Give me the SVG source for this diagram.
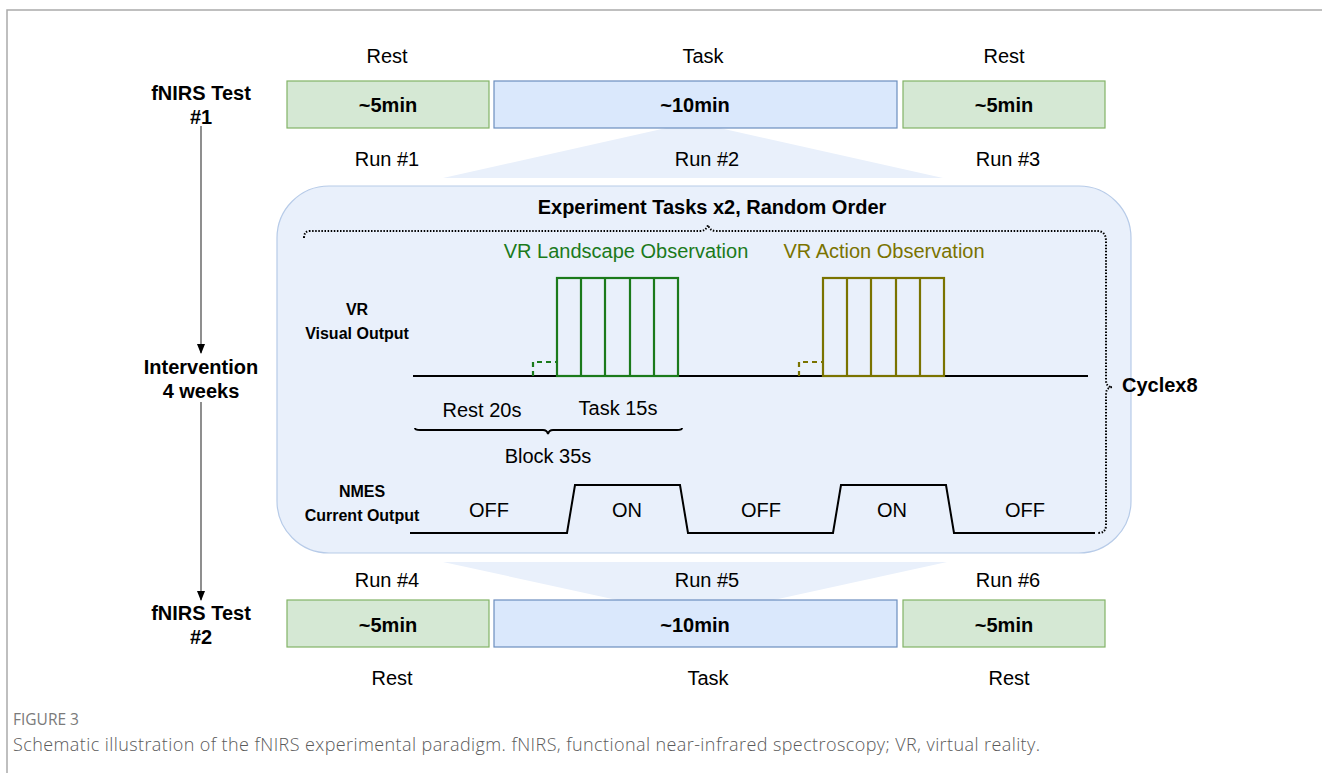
<svg xmlns="http://www.w3.org/2000/svg" width="1322" height="773" viewBox="0 0 1322 773">
<style>
text{font-family:"Liberation Sans",Arial,sans-serif;fill:#000}
.t{font-size:20px}
.b{font-size:20px;font-weight:bold}
.s{font-size:16px;font-weight:bold}
.mid{text-anchor:middle}
.gbox{fill:#d5e8d4;stroke:#82b366;stroke-width:1.2}
.bbox{fill:#dae8fc;stroke:#6c8ebf;stroke-width:1.2}
.funnel{fill:#e9f0fb}
.ln{fill:none;stroke:#000;stroke-width:2}
.gl{fill:none;stroke:#1b7a1b;stroke-width:2.2}
.ol{fill:none;stroke:#7a7300;stroke-width:2.2}
.dot{fill:none;stroke:#000;stroke-width:2;stroke-dasharray:1.5 1.6}
</style>
<defs>
<marker id="ah" viewBox="0 0 10 10" refX="9" refY="5" markerWidth="10" markerHeight="10" markerUnits="userSpaceOnUse" orient="auto">
<path d="M0,1 L10,5 L0,9 Z" fill="#000"/>
</marker>
</defs>
<rect width="1322" height="773" fill="#fff"/>
<path d="M7,773 V10 H1322" fill="none" stroke="#aaa" stroke-width="1.5"/>

<g id="funnels">
<polygon class="funnel" points="693,122 943,178 443,178"/>
<polygon class="funnel" points="443,562 947,562 695,617"/>
</g>

<g id="row1">
<text class="t mid" x="387" y="63">Rest</text>
<text class="t mid" x="703" y="63">Task</text>
<text class="t mid" x="1004" y="63">Rest</text>
<g id="r1a"><rect class="gbox" x="287" y="81" width="202" height="47"/><text class="b mid" x="388" y="112">~5min</text></g>
<g id="r1b"><rect class="bbox" x="494" y="81" width="403" height="47"/><text class="b mid" x="695" y="112">~10min</text></g>
<g id="r1c"><rect class="gbox" x="903" y="81" width="202" height="47"/><text class="b mid" x="1004" y="112">~5min</text></g>
<text class="t mid" x="387" y="166">Run #1</text>
<text class="t mid" x="707" y="166">Run #2</text>
<text class="t mid" x="1008" y="166">Run #3</text>
</g>

<g id="row2">
<text class="t mid" x="387" y="587">Run #4</text>
<text class="t mid" x="707" y="587">Run #5</text>
<text class="t mid" x="1008" y="587">Run #6</text>
<g id="r2a"><rect class="gbox" x="287" y="600" width="202" height="47"/><text class="b mid" x="388" y="632">~5min</text></g>
<g id="r2b"><rect class="bbox" x="494" y="600" width="403" height="47"/><text class="b mid" x="695" y="632">~10min</text></g>
<g id="r2c"><rect class="gbox" x="903" y="600" width="202" height="47"/><text class="b mid" x="1004" y="632">~5min</text></g>
<text class="t mid" x="392" y="685">Rest</text>
<text class="t mid" x="708" y="685">Task</text>
<text class="t mid" x="1009" y="685">Rest</text>
</g>

<g id="timeline">
<text class="b mid" x="201" y="100">fNIRS Test</text>
<text class="b mid" x="201" y="124">#1</text>
<text class="b mid" x="201" y="374">Intervention</text>
<text class="b mid" x="201" y="398">4 weeks</text>
<text class="b mid" x="201" y="620">fNIRS Test</text>
<text class="b mid" x="201" y="644">#2</text>
</g>

<g id="connectors">
<line x1="201" y1="126" x2="201" y2="353" stroke="#444" stroke-width="1.2" marker-end="url(#ah)"/>
<line x1="201" y1="402" x2="201" y2="600" stroke="#444" stroke-width="1.2" marker-end="url(#ah)"/>
</g>

<g id="panel">
<rect x="277" y="186" width="854" height="367" rx="52" ry="52" fill="#e9f0fb" stroke="#b7cbe8" stroke-width="1.2"/>
<text class="b mid" x="712" y="214">Experiment Tasks x2, Random Order</text>
<path class="dot" d="M304,238 Q304,231 310,231 L700,231 Q706,231 708,225 Q710,231 716,231 L1097,231 Q1106,231 1106,241 L1106,380 Q1106,387 1112,387 Q1106,388 1106,394 L1106,525 Q1106,533 1098,533"/>
<text class="b" x="1122" y="392">Cyclex8</text>

<text class="t mid" x="626" y="258" style="fill:#1b7a1b">VR Landscape Observation</text>
<text class="t mid" x="884" y="258" style="fill:#7a7300">VR Action Observation</text>

<text class="s mid" x="357" y="315">VR</text>
<text class="s mid" x="357" y="339">Visual Output</text>

<line class="ln" x1="413" y1="376" x2="1088" y2="376"/>
<g id="pulse1">
<rect class="gl" x="557" y="278" width="121" height="98"/>
<path class="gl" d="M581,278V376M605,278V376M630,278V376M654,278V376"/>
<path class="gl" d="M533,376V362H557" stroke-dasharray="5 4"/>
</g>
<g id="pulse2">
<rect class="ol" x="823" y="278" width="121" height="98"/>
<path class="ol" d="M847,278V376M871,278V376M896,278V376M920,278V376"/>
<path class="ol" d="M799,376V362H823" stroke-dasharray="5 4"/>
</g>

<text class="t mid" x="482" y="417">Rest 20s</text>
<text class="t mid" x="618" y="415">Task 15s</text>
<path class="ln" d="M415,428 Q415,430 420,430 L543,430 Q547,430 548,434 Q549,430 553,430 L677,430 Q682,430 682,428"/>
<text class="t mid" x="548" y="463">Block 35s</text>

<text class="s mid" x="362" y="497">NMES</text>
<text class="s mid" x="362" y="521">Current Output</text>
<path class="ln" d="M410,533 H567 L575,485 H680 L688,533 H833 L841,485 H946 L954,533 H1095"/>
<text class="t mid" x="489" y="517">OFF</text>
<text class="t mid" x="627" y="517">ON</text>
<text class="t mid" x="761" y="517">OFF</text>
<text class="t mid" x="892" y="517">ON</text>
<text class="t mid" x="1025" y="517">OFF</text>
</g>

<g id="caption">
<text x="13" y="725" style="font-family:'Open Sans',sans-serif;font-size:15.5px;fill:#7a7a7a">FIGURE 3</text>
<text x="13" y="751" textLength="1027" lengthAdjust="spacing" style="font-family:'Open Sans',sans-serif;font-size:18px;font-weight:300;fill:#5a5a5a">Schematic illustration of the fNIRS experimental paradigm. fNIRS, functional near-infrared spectroscopy; VR, virtual reality.</text>
</g>
</svg>
